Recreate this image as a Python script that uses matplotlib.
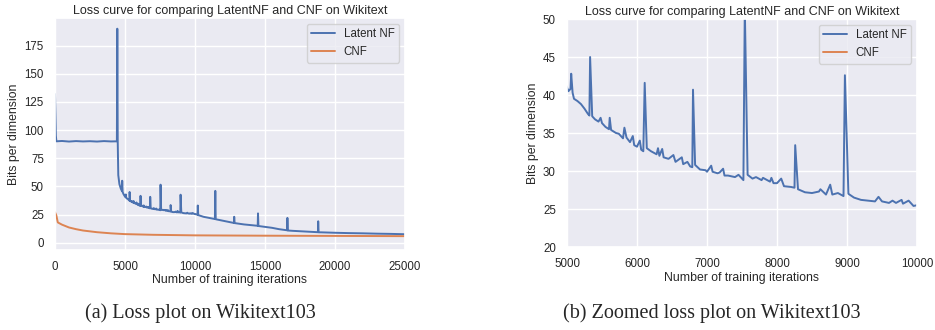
import matplotlib
matplotlib.use("Agg")
import matplotlib.pyplot as plt
import seaborn as sns

sns.set_theme(style="darkgrid")
plt.rcParams['font.family'] = ['Liberation Sans', 'DejaVu Sans']

# Latent NF: training iteration vs bits per dimension
latent_iters = [
    0, 60, 100, 500, 1000, 1500, 2000, 2500, 3000, 3500, 4000, 4400, 4420, 4450, 4480,
    4520, 4600, 4700, 4780, 4800, 4830, 4900,
    5000, 5020, 5050, 5060, 5080, 5100, 5150, 5200, 5250, 5300, 5320, 5330, 5360, 5400,
    5450, 5480, 5500, 5550, 5600, 5610, 5630, 5700, 5740, 5800, 5820, 5850, 5900, 5940,
    5960, 6000, 6040, 6060, 6090, 6110, 6140, 6200, 6280, 6300, 6320, 6360, 6380, 6450,
    6520, 6550, 6640, 6660, 6720, 6760, 6790, 6800, 6830, 6900, 6980, 7000, 7060, 7080,
    7150, 7180, 7230, 7250, 7300, 7400, 7450, 7520, 7540, 7580, 7650, 7700, 7780, 7800,
    7900, 7920, 7950, 8000, 8060, 8100, 8200, 8250, 8260, 8300, 8400, 8500, 8600, 8620,
    8700, 8760, 8790, 8870, 8950, 8970, 9020, 9100, 9200, 9300, 9400, 9450, 9500, 9600,
    9650, 9700, 9780, 9800, 9880, 9950, 10000,
    10180, 10200, 10230, 10600, 11000, 11420, 11450, 11480, 12000, 12780, 12800, 12830,
    13500, 14480, 14500, 14530, 15000, 15500, 16000, 16580, 16600, 16630, 17000, 18000,
    18780, 18800, 18830, 19000, 20000, 21000, 22000, 23000, 24000, 25000,
]
latent_bpd = [
    132, 95, 90, 90.3, 89.8, 90.2, 89.9, 90.1, 89.8, 90.2, 89.9, 90, 90, 190, 90,
    60, 52, 48, 46, 55, 45, 43,
    41.0, 40.5, 40.8, 42.8, 40.3, 39.5, 39.2, 38.8, 38.2, 37.5, 37.3, 45.0, 37.2, 36.8,
    36.5, 37.0, 36.3, 35.8, 35.5, 37.0, 35.4, 35.0, 34.9, 34.3, 35.7, 34.4, 33.8, 34.6,
    33.4, 33.2, 34.0, 32.8, 32.6, 41.6, 33.0, 32.6, 32.2, 33.0, 32.0, 32.9, 31.8, 31.6,
    32.1, 31.2, 31.8, 30.9, 31.2, 30.6, 30.5, 40.7, 30.8, 30.2, 30.1, 29.9, 30.7, 29.9,
    29.7, 29.8, 30.3, 29.4, 29.4, 29.2, 29.5, 28.8, 51.5, 29.5, 29.0, 29.2, 28.8, 29.1,
    28.6, 29.1, 28.4, 28.4, 29.0, 28.0, 27.9, 27.8, 33.4, 27.6, 27.2, 27.1, 27.3, 27.6,
    26.9, 28.2, 26.9, 27.1, 26.7, 42.6, 27.0, 26.5, 26.2, 26.1, 26.0, 26.6, 26.0, 25.8,
    26.1, 25.8, 26.2, 25.7, 26.1, 25.4, 25.5,
    24.8, 33.0, 24.5, 23.0, 22.0, 21.0, 46.0, 20.8, 19.5, 17.5, 23.0, 17.4,
    16.2, 15.0, 26.0, 14.8, 14.0, 13.2, 12.0, 11.0, 22.0, 10.8, 10.5, 9.8,
    9.3, 19.0, 9.2, 9.2, 8.8, 8.5, 8.3, 8.0, 7.8, 7.5,
]

# CNF: training iteration vs bits per dimension
cnf_iters = [0, 100, 200, 500, 1000, 1500, 2000, 3000, 4000, 5000, 7000, 10000,
             15000, 20000, 25000]
cnf_bpd = [27, 24, 18, 16, 13.5, 12, 10.8, 9.3, 8.3, 7.6, 7.0, 6.5, 6.2, 6.0, 5.8]

title = "Loss curve for comparing LatentNF and CNF on Wikitext"
xlabel = "Number of training iterations"
ylabel = "Bits per dimension"
captions = ["(a) Loss plot on Wikitext103", "(b) Zoomed loss plot on Wikitext103"]

blue = "#4C72B0"
orange = "#DD8452"

fig = plt.figure(figsize=(9.35, 3.3), dpi=100)
ax1 = fig.add_axes([55 / 935, 1 - 250 / 330, 350 / 935, 232 / 330])
ax2 = fig.add_axes([567 / 935, 1 - 247 / 330, 350 / 935, 228 / 330])

for ax in (ax1, ax2):
    ax.plot(latent_iters, latent_bpd, color=blue, lw=1.4, label="Latent NF")
    ax.plot(cnf_iters, cnf_bpd, color=orange, lw=1.4, label="CNF")
    ax.set_title(title, fontsize=9, pad=3)
    ax.set_xlabel(xlabel, fontsize=8.8, labelpad=1)
    ax.set_ylabel(ylabel, fontsize=8.8, labelpad=3)
    ax.tick_params(labelsize=8.3, pad=2)
    ax.legend(loc="upper right", fontsize=8.3, framealpha=0.8)

ax1.set_xlim(0, 25000)
ax1.set_ylim(-6.5, 199.5)
ax1.set_xticks([0, 5000, 10000, 15000, 20000, 25000])
ax1.set_yticks([0, 25, 50, 75, 100, 125, 150, 175])

ax2.set_xlim(5000, 10000)
ax2.set_ylim(20, 50)
ax2.set_xticks([5000, 6000, 7000, 8000, 9000, 10000])
ax2.set_yticks([20, 25, 30, 35, 40, 45, 50])

fig.text(200 / 935, 1 - 313 / 330, captions[0], ha="center", va="center",
         fontsize=14.5, family="Liberation Serif")
fig.text(712 / 935, 1 - 313 / 330, captions[1], ha="center", va="center",
         fontsize=14.5, family="Liberation Serif")

fig.savefig("out.png", dpi=100)
